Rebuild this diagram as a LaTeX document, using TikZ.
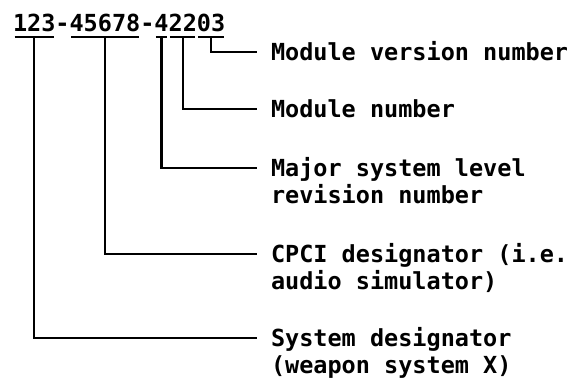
\documentclass[tikz,border=0pt]{standalone}
\usepackage{fontspec}
\usepackage{tikz}
\setmainfont{DejaVu Sans Mono}
\usetikzlibrary{positioning}

\begin{document}
\begin{tikzpicture}[x=1pt, y=1pt, line width=2.5pt,
    digits/.style={inner sep=0pt, outer sep=0pt, text height=17pt, text depth=0pt,
                   font=\fontsize{23.5}{27}\selectfont\bfseries},
    desc/.style={digits, inner xsep=14pt}]
  \useasboundingbox (0,0) rectangle (584,-379);

  % part number, one node per field
  \node[digits, anchor=south west] (sys) at (13,-32) {123};
  \node[digits, right=0pt of sys] (dash1) {-};
  \node[digits, right=0pt of dash1] (cpci) {45678};
  \node[digits, right=0pt of cpci] (dash2) {-};
  \node[digits, right=0pt of dash2] (maj) {4};
  \node[digits, right=0pt of maj] (mod) {22};
  \node[digits, right=0pt of mod] (ver) {03};

  % descriptions
  \node[desc, anchor=west] (verlbl) at (257,-52) {Module version number};
  \node[desc, anchor=west] (modlbl) at (257,-109) {Module number};
  \node[desc, anchor=west] (majlbl) at (257,-168) {Major system level};
  \node[desc, below=10pt of majlbl.south west, anchor=north west] (majlbl2) {revision number};
  \node[desc, anchor=west] (cpcilbl) at (257,-254) {CPCI designator (i.e.};
  \node[desc, below=10pt of cpcilbl.south west, anchor=north west] (cpcilbl2) {audio simulator)};
  \node[desc, anchor=west] (syslbl) at (257,-338) {System designator};
  \node[desc, below=10pt of syslbl.south west, anchor=north west] (syslbl2) {(weapon system X)};

  % underline each field and lead it to its description
  \foreach \f in {sys,cpci,maj,mod,ver} {
    \draw ([shift={(1.5,-5)}]\f.south west) -- ([shift={(-1.5,-5)}]\f.south east);
    \draw ([yshift=-5pt]\f.south) |- (\f lbl);
  }
\end{tikzpicture}
\end{document}
